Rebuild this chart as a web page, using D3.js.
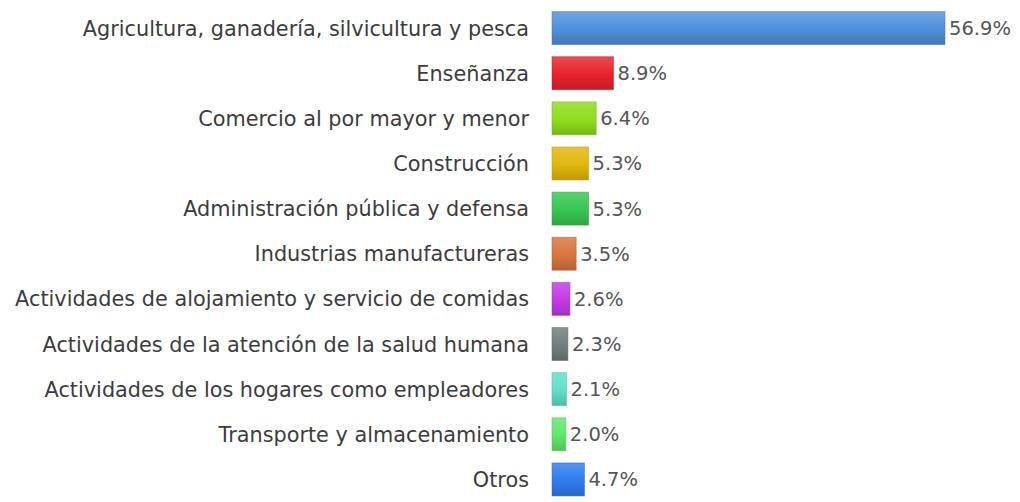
<!DOCTYPE html>
<html>
<head>
<meta charset="utf-8">
<script src="https://cdn.jsdelivr.net/npm/d3@7"></script>
<style>
  html, body { margin: 0; padding: 0; background: #ffffff; }
  svg { display: block; }
</style>
</head>
<body>
<svg id="chart" width="1020" height="502"></svg>
<script>
// Employment share by economic activity (%)
const categories = [
  "Agricultura, ganadería, silvicultura y pesca",
  "Enseñanza",
  "Comercio al por mayor y menor",
  "Construcción",
  "Administración pública y defensa",
  "Industrias manufactureras",
  "Actividades de alojamiento y servicio de comidas",
  "Actividades de la atención de la salud humana",
  "Actividades de los hogares como empleadores",
  "Transporte y almacenamiento",
  "Otros"
];
const values = [56.9, 8.9, 6.4, 5.3, 5.3, 3.5, 2.6, 2.3, 2.1, 2.0, 4.7];
const barColors = [
  "#4f8fdc", "#e8222c", "#8fdc1c", "#e2b70a", "#36c653", "#d8743e",
  "#c23ae6", "#6f7e7e", "#5fe0c6", "#5fe86a", "#2f7cf0"
];

const svg = d3.select("#chart");
const left = 552;
const font = "'DejaVu Sans', Verdana, sans-serif";

const x = d3.scaleLinear().domain([0, 56.9]).range([left, 945]);
const y = d3.scaleBand().domain(categories).range([5.5, 502]).paddingInner(0.27).paddingOuter(0.135);

// vertical gradients per bar: lighter top, darker bottom
const defs = svg.append("defs");
barColors.forEach((c, i) => {
  const g = defs.append("linearGradient")
    .attr("id", "grad" + i).attr("x1", 0).attr("y1", 0).attr("x2", 0).attr("y2", 1);
  g.append("stop").attr("offset", "0%").attr("stop-color", d3.interpolateRgb(c, "#ffffff")(0.18));
  g.append("stop").attr("offset", "55%").attr("stop-color", c);
  g.append("stop").attr("offset", "100%").attr("stop-color", d3.color(c).darker(0.5));
});

const rows = svg.append("g").selectAll("g")
  .data(categories.map((c, i) => ({ c, v: values[i], i })))
  .join("g");

rows.append("rect")
  .attr("x", x(0))
  .attr("y", d => y(d.c))
  .attr("width", d => x(d.v) - x(0))
  .attr("height", y.bandwidth())
  .attr("fill", d => `url(#grad${d.i})`)
  .attr("stroke", d => d3.color(barColors[d.i]).darker(0.6))
  .attr("stroke-opacity", 0.5)
  .attr("stroke-width", 1);

rows.append("text")
  .attr("x", 529)
  .attr("y", d => y(d.c) + y.bandwidth() / 2)
  .attr("dy", "0.36em")
  .attr("text-anchor", "end")
  .attr("font-family", font)
  .attr("font-size", 20.8)
  .attr("fill", "#3c3c3c")
  .text(d => d.c);

rows.append("text")
  .attr("x", d => x(d.v) + 4)
  .attr("y", d => y(d.c) + y.bandwidth() / 2)
  .attr("dy", "0.36em")
  .attr("text-anchor", "start")
  .attr("font-family", font)
  .attr("font-size", 19.5)
  .attr("fill", "#555555")
  .text(d => d3.format(".1f")(d.v) + "%");
</script>
</body>
</html>
